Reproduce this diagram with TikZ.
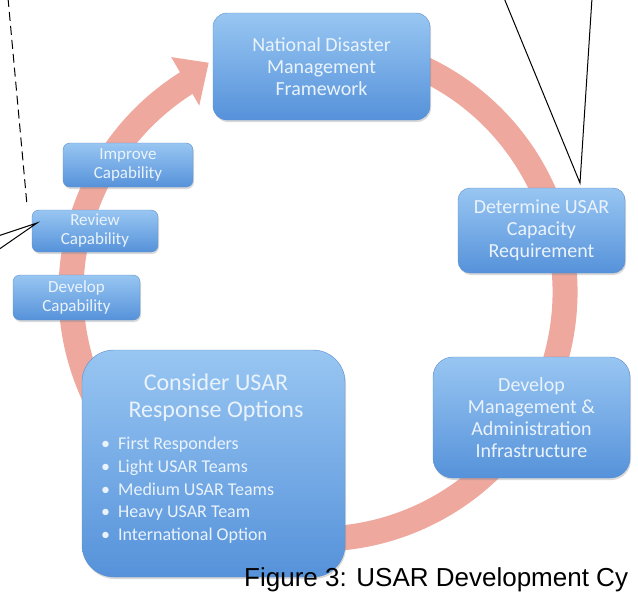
\documentclass[tikz,border=0pt]{standalone}
\usepackage{fontspec}
\setmainfont{Carlito}
\newfontfamily\captionfont{Liberation Sans}
\usetikzlibrary{shadows}
\definecolor{boxtop}{RGB}{152,198,242}
\definecolor{boxbottom}{RGB}{86,146,218}
\definecolor{boxline}{RGB}{92,142,205}
\definecolor{boxtext}{RGB}{234,243,252}
\definecolor{ringred}{RGB}{238,168,158}
\tikzset{
  cycle box/.style={
    rounded corners=14pt,
    draw=boxline,
    top color=boxtop,
    bottom color=boxbottom,
    text=boxtext,
    align=center,
    inner sep=0pt,
    drop shadow={opacity=0.3, shadow xshift=1pt, shadow yshift=-2pt},
    font=\fontsize{20}{22}\selectfont,
  },
  small box/.style={
    cycle box,
    rounded corners=7pt,
    font=\fontsize{17}{19}\selectfont,
  },
  callout/.style={black, line width=1pt},
}

\begin{document}
\begin{tikzpicture}[x=1pt, y=-1pt]
  \clip (0,0) rectangle (638,592);
  \coordinate (hub) at (318,292);

  \draw[ringred, line width=25pt] (hub) ++(-75:247) arc[start angle=-75, end angle=238.5, radius=247];
  \fill[ringred] ([shift={(237.5:221)}]hub) -- ([shift={(238:277)}]hub) -- ([shift={(244.5:254)}]hub) -- cycle;

  \node[cycle box, minimum width=217pt, minimum height=107pt] (framework) at (321.5,66.5) {National Disaster\\Management\\Framework};
  \node[cycle box, rounded corners=12pt, minimum width=167pt, minimum height=85pt] (requirement) at (541.5,230.5) {Determine USAR\\Capacity\\Requirement};
  \node[cycle box, rounded corners=20pt, minimum width=197pt, minimum height=121pt] (infrastructure) at (531.5,417.5) {Develop\\Management \&\\Administration\\Infrastructure};
  \node[cycle box, rounded corners=32pt, minimum width=263pt, minimum height=227pt] (options) at (213.5,463.5) {};
  \node[text=boxtext, align=center, font=\fontsize{24}{27}\selectfont] (optionstitle) at (216,398) {Consider USAR\\Response Options};
  \node[text=boxtext, align=left, anchor=north west, inner sep=0pt, font=\fontsize{18}{22.7}\selectfont] (optionslist) at (101,437)
    {\textbullet\hspace{8pt}First Responders\\
     \textbullet\hspace{8pt}Light USAR Teams\\
     \textbullet\hspace{8pt}Medium USAR Teams\\
     \textbullet\hspace{8pt}Heavy USAR Team\\
     \textbullet\hspace{8pt}International Option};
  \node[small box, minimum width=127pt, minimum height=45pt] (developcap) at (76.5,297.5) {Develop\\Capability};
  \node[small box, minimum width=126pt, minimum height=42pt] (reviewcap) at (95,231) {Review\\Capability};
  \node[small box, minimum width=130pt, minimum height=44pt] (improvecap) at (128,165) {Improve\\Capability};

  \coordinate (dashtop) at (8,-2);
  \coordinate (dashend) at (27,205);
  \coordinate (reviewtip) at (37,223);
  \coordinate (leftupper) at (-2,236);
  \coordinate (leftlower) at (-2,250);
  \coordinate (requiretip) at (580,183);
  \coordinate (topleft) at (504,-2);
  \coordinate (topright) at (592,-2);
  \draw[callout, dash pattern=on 9pt off 5pt] (dashtop) -- (dashend);
  \draw[callout] (leftupper) -- (reviewtip) -- (leftlower);
  \draw[callout] (topleft) -- (requiretip) -- (topright);

  \node[anchor=base west, inner sep=0pt, font=\captionfont\fontsize{26}{30}\selectfont] (caption) at (244,586) {Figure 3: USAR Development Cy};
\end{tikzpicture}
\end{document}
